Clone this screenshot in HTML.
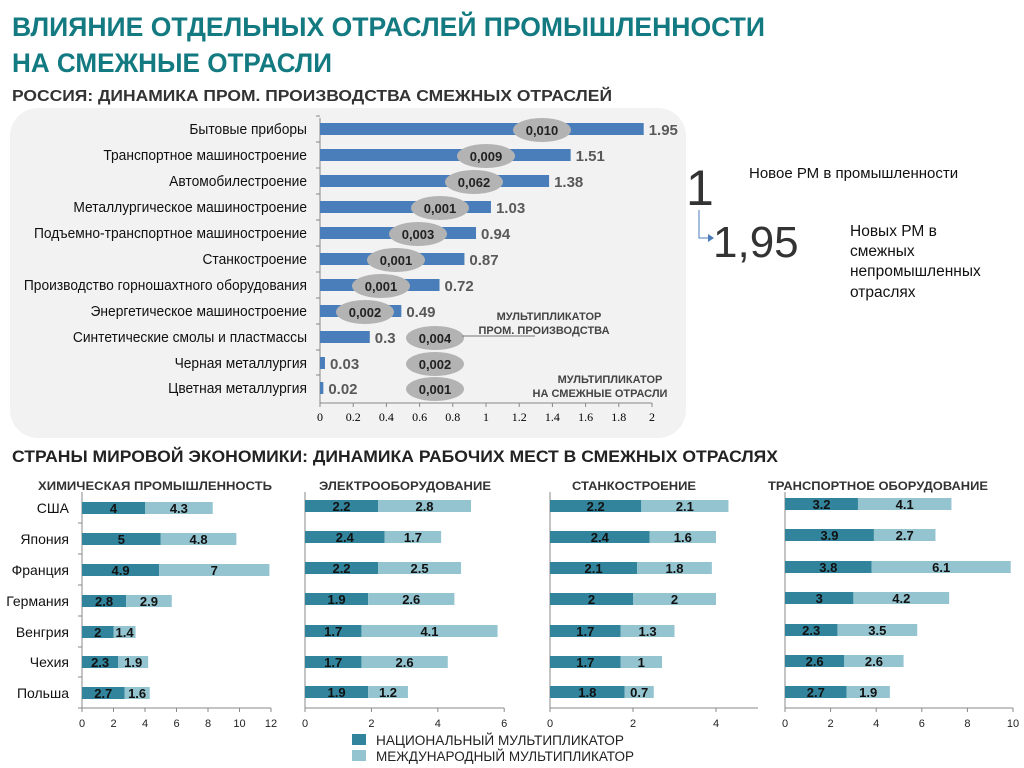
<!DOCTYPE html>
<html><head><meta charset="utf-8">
<style>
html,body{margin:0;padding:0;background:#fff;width:1024px;height:768px;overflow:hidden}
svg{display:block;font-family:"Liberation Sans","DejaVu Sans",sans-serif}
</style></head><body>
<svg id="s" width="1024" height="768" viewBox="0 0 1024 768" xmlns="http://www.w3.org/2000/svg">
<rect x="10" y="108" width="676" height="330" rx="28" fill="#f2f2f2"/>
<text x="12" y="36" font-size="27" font-weight="bold" fill="#127a80" textLength="753" lengthAdjust="spacingAndGlyphs">ВЛИЯНИЕ ОТДЕЛЬНЫХ ОТРАСЛЕЙ ПРОМЫШЛЕННОСТИ</text>
<text x="12" y="72" font-size="27" font-weight="bold" fill="#127a80" textLength="320" lengthAdjust="spacingAndGlyphs">НА СМЕЖНЫЕ ОТРАСЛИ</text>
<text x="12" y="101" font-size="16" font-weight="bold" fill="#333" textLength="600" lengthAdjust="spacingAndGlyphs">РОССИЯ: ДИНАМИКА ПРОМ. ПРОИЗВОДСТВА СМЕЖНЫХ ОТРАСЛЕЙ</text>
<text x="12" y="462" font-size="17" font-weight="bold" fill="#222" textLength="766" lengthAdjust="spacingAndGlyphs">СТРАНЫ МИРОВОЙ ЭКОНОМИКИ: ДИНАМИКА РАБОЧИХ МЕСТ В СМЕЖНЫХ ОТРАСЛЯХ</text>
<text x="686" y="205" font-size="50" fill="#333">1</text>
<path d="M699 210 V238 H710" fill="none" stroke="#4a7ebb" stroke-width="1"/>
<path d="M708 234 L714 238 L708 242Z" fill="#4a7ebb"/>
<text x="713" y="257" font-size="44" fill="#333">1,95</text>
<text x="749" y="178" font-size="15" fill="#111">Новое РМ в промышленности</text>
<g font-size="15.5" fill="#111">
<text x="850" y="236">Новых РМ в</text>
<text x="850" y="256">смежных</text>
<text x="850" y="276">непромышленных</text>
<text x="850" y="297">отраслях</text>
</g>
<g id="g"></g>
</svg>
<script>
var g=document.getElementById('g'),h='';
function T(x,y,s,o){o=o||{};return '<text x="'+x+'" y="'+y+'" font-size="'+(o.fs||12)+'"'+(o.b?' font-weight="bold"':'')+' fill="'+(o.c||'#000')+'"'+(o.a?' text-anchor="'+o.a+'"':'')+(o.tl?' textLength="'+o.tl+'" lengthAdjust="spacingAndGlyphs"':'')+(o.cls?' class="'+o.cls+'"':'')+(o.f?' font-family="'+o.f+'"':'')+'>'+s+'</text>';}
function R(x,y,w,hh,c){return '<rect x="'+x+'" y="'+y+'" width="'+w+'" height="'+hh+'" fill="'+c+'"/>';}
var labs=['Бытовые приборы','Транспортное машиностроение','Автомобилестроение','Металлургическое машиностроение','Подъемно-транспортное машиностроение','Станкостроение','Производство горношахтного оборудования','Энергетическое машиностроение','Синтетические смолы и пластмассы','Черная металлургия','Цветная металлургия'];
var vals=[1.95,1.51,1.38,1.03,0.94,0.87,0.72,0.49,0.3,0.03,0.02];
var ys=[129,155,181,207,233,259,285,311,337,363,388];
var el=[['0,010',542],['0,009',486],['0,062',474],['0,001',440],['0,003',418],['0,001',396],['0,001',381],['0,002',365],['0,004',435],['0,002',435],['0,001',435]];
var x0=320,k=166;
h+='<line x1="320" y1="118" x2="320" y2="403" stroke="#888"/><line x1="320" y1="403" x2="652" y2="403" stroke="#888"/>';
for(var i=0;i<=10;i++){var xx=x0+i*0.2*k;h+='<line x1="'+xx+'" y1="403" x2="'+xx+'" y2="407" stroke="#888"/>';h+=T(xx,421,(i*0.2).toFixed(i%5==0?0:1).replace(/\.0$/,''),{fs:12,a:'middle',f:'Liberation Serif'});}
for(i=0;i<11;i++){var y=ys[i];
 h+='<line x1="316" y1="'+(y-13)+'" x2="320" y2="'+(y-13)+'" stroke="#888"/>';
 h+=T(307,y+5,labs[i],{fs:15,a:'end',cls:'cond',c:'#111'});
 h+=R(x0,y-6,vals[i]*k,12,'#4a7ebb');
 h+=T(x0+vals[i]*k+5,y+6,String(vals[i]),{fs:15,b:1,c:'#595959'});
}
for(i=0;i<11;i++){var y=ys[i]+1;h+='<ellipse cx="'+el[i][1]+'" cy="'+y+'" rx="29" ry="12" fill="#b3b3b3"/>';h+=T(el[i][1],y+5,el[i][0],{fs:13,b:1,a:'middle',c:'#222'});}
h+='<line x1="462" y1="336" x2="535" y2="336" stroke="#777"/>';
h+=T(549,320,'МУЛЬТИПЛИКАТОР',{fs:11,b:1,a:'middle',c:'#444'})+T(544,334,'ПРОМ. ПРОИЗВОДСТВА',{fs:11,b:1,a:'middle',c:'#444'});
h+=T(610,383,'МУЛЬТИПЛИКАТОР',{fs:11,b:1,a:'middle',c:'#444'})+T(600,397,'НА СМЕЖНЫЕ ОТРАСЛИ',{fs:11,b:1,a:'middle',c:'#444'});
var D='#31849b',L='#93c4d0';
var charts=[
 {t:'ХИМИЧЕСКАЯ ПРОМЫШЛЕННОСТЬ',tx:155,tl:234,x0:82,k:15.75,max:12,st:2,ys:[508,539,570,601,632,662,693],d:[[4,4.3],[5,4.8],[4.9,7],[2.8,2.9],[2,1.4],[2.3,1.9],[2.7,1.6]],ay:708},
 {t:'ЭЛЕКТРООБОРУДОВАНИЕ',tx:405,tl:172,x0:305,k:33.2,max:6,st:2,ys:[506,537,568,599,631,662,692],d:[[2.2,2.8],[2.4,1.7],[2.2,2.5],[1.9,2.6],[1.7,4.1],[1.7,2.6],[1.9,1.2]],ay:708},
 {t:'СТАНКОСТРОЕНИЕ',tx:634,tl:124,x0:550,k:41.5,max:4,st:2,ys:[506,537,568,599,631,662,692],d:[[2.2,2.1],[2.4,1.6],[2.1,1.8],[2,2],[1.7,1.3],[1.7,1],[1.8,0.7]],ay:708,axend:758},
 {t:'ТРАНСПОРТНОЕ ОБОРУДОВАНИЕ',tx:878,tl:220,x0:785,k:22.8,max:10,st:2,ys:[504,535,567,598,630,661,692],d:[[3.2,4.1],[3.9,2.7],[3.8,6.1],[3,4.2],[2.3,3.5],[2.6,2.6],[2.7,1.9]],ay:708}];
var cn=['США','Япония','Франция','Германия','Венгрия','Чехия','Польша'];
charts.forEach(function(c,ci){
 h+=T(c.tx,490,c.t,{fs:12,b:1,a:'middle',c:'#333',tl:c.tl});
 var xe=c.axend||c.x0+c.max*c.k;
 h+='<line x1="'+c.x0+'" y1="492" x2="'+c.x0+'" y2="'+c.ay+'" stroke="#888"/><line x1="'+c.x0+'" y1="'+c.ay+'" x2="'+xe+'" y2="'+c.ay+'" stroke="#888"/>';
 for(var v=0;v<=c.max;v+=c.st){var xx=c.x0+v*c.k;h+='<line x1="'+xx+'" y1="'+c.ay+'" x2="'+xx+'" y2="'+(c.ay+4)+'" stroke="#888"/>'+T(xx,727,v,{fs:11,a:'middle',c:'#222'});}
 c.d.forEach(function(p,i){var y=c.ys[i],w1=p[0]*c.k,w2=p[1]*c.k;
  h+=R(c.x0,y-6,w1,12,D)+R(c.x0+w1,y-6,w2,12,L);
  h+=T(c.x0+w1/2,y+5,p[0],{fs:13,b:1,a:'middle',c:'#111'})+T(c.x0+w1+w2/2,y+5,p[1],{fs:13,b:1,a:'middle',c:'#111'});
  if(ci==0){h+=T(69,y+5,cn[i],{fs:14,a:'end',c:'#111'});h+='<line x1="78" y1="'+(y+15)+'" x2="82" y2="'+(y+15)+'" stroke="#888"/>';}
 });
});
h+=R(352,734,14,11,D)+R(352,750,14,11,L);
h+=T(376,745,'НАЦИОНАЛЬНЫЙ МУЛЬТИПЛИКАТОР',{fs:13.5,c:'#222',tl:248})+T(376,761,'МЕЖДУНАРОДНЫЙ МУЛЬТИПЛИКАТОР',{fs:13.5,c:'#222',tl:258});
g.innerHTML=h;
var cs=document.querySelectorAll('.cond');
for(var j=0;j<cs.length;j++){var t=cs[j];var w=t.getComputedTextLength();t.setAttribute('textLength',w*0.92);t.setAttribute('lengthAdjust','spacingAndGlyphs');}
</script>
</body></html>
